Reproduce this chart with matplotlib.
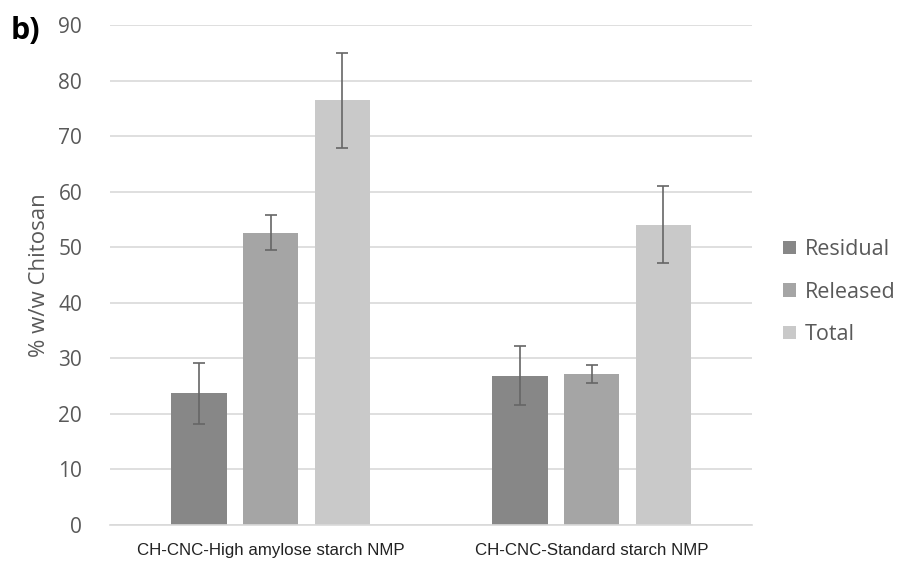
import numpy as np
import matplotlib
matplotlib.use("Agg")
from matplotlib import pyplot as plt

categories = ["CH-CNC-High amylose starch NMP", "CH-CNC-Standard starch NMP"]
series = ["Residual", "Released", "Total"]
residual = [23.7, 26.9]
released = [52.7, 27.2]
total = [76.5, 54.1]
residual_err = [5.5, 5.3]
released_err = [3.2, 1.6]
total_err = [8.6, 6.9]

colors = ["#878787", "#a5a5a5", "#c9c9c9"]
grid_c = "#d9d9d9"
text_c = "#595959"

plt.rcParams["font.family"] = ["Open Sans", "DejaVu Sans"]

fig = plt.figure(figsize=(8.98, 5.65), dpi=100)
ax = fig.add_axes([0.1225, 0.0708, 0.7150, 0.8841])

x = np.arange(len(categories))
width = 0.174
step = 0.224
values = [residual, released, total]
errors = [residual_err, released_err, total_err]
for i, (name, vals, errs) in enumerate(zip(series, values, errors)):
    ax.bar(x + (i - 1) * step, vals, width, color=colors[i], label=name, zorder=2)
    ax.errorbar(x + (i - 1) * step, vals, yerr=errs, fmt="none", ecolor="#666666",
                elinewidth=1.2, capsize=4, capthick=1.2, zorder=3)

ax.set_xlim(-0.5, 1.5)
ax.set_ylim(0, 90)
ax.set_yticks(range(0, 91, 10))
ax.grid(axis="y", color=grid_c, linewidth=1.2, zorder=0)
ax.set_axisbelow(True)
for s in ["top", "right", "left"]:
    ax.spines[s].set_visible(False)
ax.spines["bottom"].set_color(grid_c)
ax.spines["bottom"].set_linewidth(1.2)
ax.tick_params(axis="both", length=0)
ax.tick_params(axis="y", labelsize=15, labelcolor=text_c, pad=20)
ax.set_xticks(x)
ax.set_xticklabels(categories, fontsize=12.2, color="#222222",
                   family=["Liberation Sans Narrow", "Liberation Sans", "DejaVu Sans"])
ax.tick_params(axis="x", pad=13)
ax.set_ylabel("% w/w Chitosan", fontsize=16, color=text_c, labelpad=6)

ax.legend(loc="center left", bbox_to_anchor=(1.048, 0.466), frameon=False,
          fontsize=15.5, labelcolor=text_c, handlelength=0.6, handleheight=0.6,
          handletextpad=0.4, labelspacing=1.0, borderpad=0, borderaxespad=0)

fig.text(0.012, 0.945, "b)", fontsize=22, fontweight="bold", color="black",
         ha="left", va="center")

fig.savefig("out.png", dpi=100)
